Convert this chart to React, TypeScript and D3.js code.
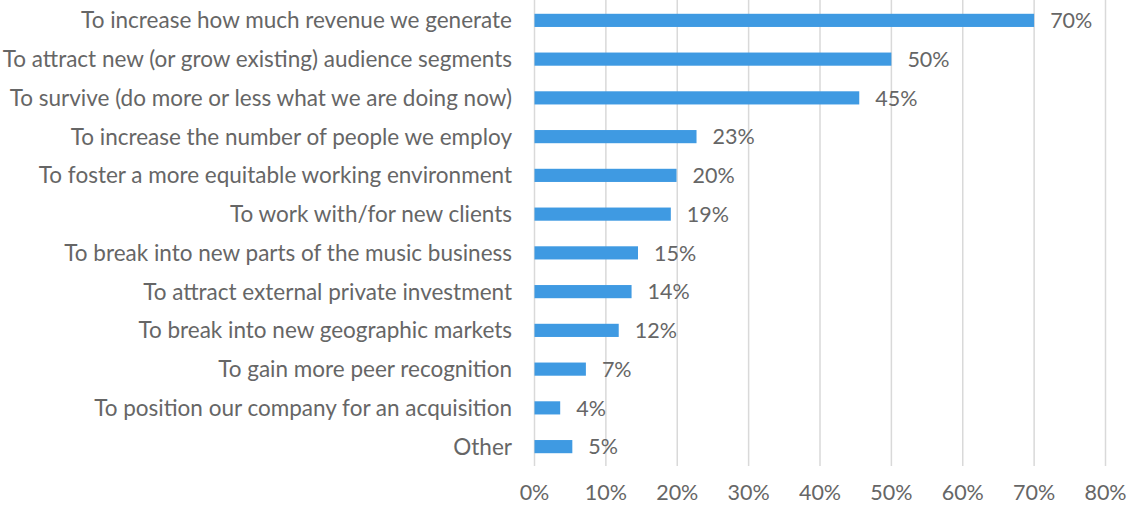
import React from "react";
import * as d3 from "d3";

const categories = [
  "To increase how much revenue we generate",
  "To attract new (or grow existing) audience segments",
  "To survive (do more or less what we are doing now)",
  "To increase the number of people we employ",
  "To foster a more equitable working environment",
  "To work with/for new clients",
  "To break into new parts of the music business",
  "To attract external private investment",
  "To break into new geographic markets",
  "To gain more peer recognition",
  "To position our company for an acquisition",
  "Other",
];
const values = [70.0, 50.0, 45.5, 22.7, 19.9, 19.1, 14.5, 13.6, 11.8, 7.2, 3.6, 5.3];
const valueLabels = ["70%", "50%", "45%", "23%", "20%", "19%", "15%", "14%", "12%", "7%", "4%", "5%"];
const ticks = [0, 10, 20, 30, 40, 50, 60, 70, 80];

const W = 1128;
const H = 505;
const FONT = "Lato, 'Open Sans', sans-serif";
const TEXT = "#666666";
const FS = 22.5;

export default function App() {
  const x = d3.scaleLinear().domain([0, 80]).range([534.5, 1105.5]);
  const y = d3
    .scaleBand<string>()
    .domain(categories)
    .range([1, 466])
    .paddingInner(0.66)
    .paddingOuter(0.33);
  const bw = y.bandwidth();
  return (
    <svg
      width={W}
      height={H}
      style={{ position: "absolute", left: 0, top: 0, background: "#fff" }}
      fontFamily={FONT}
    >
      {ticks.map((t) => (
        <line
          key={"g" + t}
          x1={x(t)}
          x2={x(t)}
          y1={0}
          y2={466}
          stroke="#d9d9d9"
          strokeWidth={1.5}
        />
      ))}
      {categories.map((c, i) => {
        const yy = y(c)!;
        return (
          <g key={c}>
            <rect x={x(0)} y={yy} width={x(values[i]) - x(0)} height={bw} fill="#3f9ae2" />
            <text
              x={512}
              y={yy + bw / 2}
              dy="0.36em"
              textAnchor="end"
              fontSize={FS}
              fill={TEXT}
            >
              {c}
            </text>
            <text
              x={x(values[i]) + 16}
              y={yy + bw / 2}
              dy="0.36em"
              fontSize={21.5}
              fill={TEXT}
            >
              {valueLabels[i]}
            </text>
          </g>
        );
      })}
      {ticks.map((t) => (
        <text
          key={"t" + t}
          x={x(t)}
          y={500}
          textAnchor="middle"
          fontSize={21.5}
          fill={TEXT}
        >
          {t + "%"}
        </text>
      ))}
    </svg>
  );
}
